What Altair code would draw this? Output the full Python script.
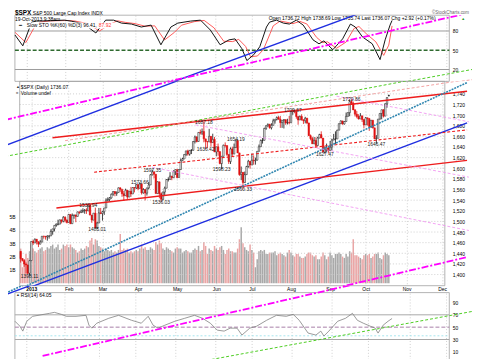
import altair as alt
import pandas as pd

FONT = "Liberation Sans"

# ------------------------------------------------------------------ data
HOLIDAYS = ["2012-12-25", "2013-01-01", "2013-01-21", "2013-02-18", "2013-03-29",
            "2013-05-27", "2013-07-04", "2013-09-02"]
FIRST_DAY = "2012-12-21"
LAST_DAY = "2013-10-18"
OPEN_FIRST = 1443.67
PREV_CLOSE_FIRST = 1443.69
OPEN_LAST = 1736.72

CLOSE_DEC = [1430.15, 1426.66, 1419.83, 1418.10, 1402.43, 1426.19]
HIGH_DEC = [1443.70, 1430.15, 1429.10, 1422.80, 1418.10, 1426.74]
LOW_DEC = [1422.58, 1424.66, 1414.50, 1401.80, 1401.58, 1398.11]
VOL_DEC = [2.6, 1.2, 1.7, 2.2, 1.9, 2.4]

CLOSE_JAN = [1462.42, 1459.37, 1466.47, 1461.89, 1457.15, 1461.02, 1472.12, 1472.05, 1470.68, 1472.34, 1472.63,
             1480.94, 1485.98, 1492.56, 1494.81, 1494.82, 1502.96, 1500.18, 1507.84, 1501.96, 1498.11]
HIGH_JAN = [1462.43, 1465.47, 1467.94, 1466.47, 1461.89, 1464.73, 1472.30, 1472.75, 1472.05, 1473.96, 1473.63,
            1485.16, 1485.98, 1492.56, 1496.13, 1503.26, 1503.26, 1503.23, 1509.94, 1509.66, 1504.19]
LOW_JAN = [1426.19, 1455.53, 1459.37, 1456.62, 1451.64, 1457.15, 1461.02, 1467.58, 1465.69, 1463.76, 1467.60,
           1472.63, 1475.01, 1481.16, 1489.90, 1492.56, 1494.82, 1496.33, 1498.33, 1498.11, 1496.14]
VOL_JAN = [2.9, 2.6, 2.4, 2.3, 2.5, 2.6, 2.7, 2.4, 2.5, 2.7, 2.6, 2.8, 2.9, 2.6, 2.7, 2.9, 2.5, 2.6, 2.9, 2.8, 2.9]

CLOSE_FEB = [1513.17, 1495.71, 1511.29, 1512.12, 1509.39, 1517.93, 1517.01, 1519.43, 1520.33, 1521.38, 1519.79,
             1530.94, 1511.95, 1502.42, 1515.60, 1487.85, 1496.94, 1515.99, 1514.68]
HIGH_FEB = [1514.07, 1513.17, 1514.96, 1512.53, 1512.90, 1518.31, 1518.31, 1522.29, 1524.69, 1523.14, 1524.69,
            1530.94, 1530.94, 1511.95, 1515.64, 1525.84, 1498.99, 1525.34, 1525.34]
LOW_FEB = [1498.11, 1495.02, 1495.71, 1504.99, 1498.49, 1509.39, 1513.61, 1515.61, 1515.93, 1514.41, 1514.14,
           1520.24, 1511.41, 1497.29, 1502.42, 1487.85, 1485.01, 1497.07, 1514.68]
VOL_FEB = [2.7, 2.9, 2.7, 2.6, 2.5, 2.3, 2.4, 2.6, 2.5, 2.6, 2.8, 2.7, 3.2, 3.4, 2.9, 3.3, 3.2, 2.8, 2.7]

CLOSE_MAR = [1518.20, 1525.20, 1539.79, 1541.46, 1544.26, 1551.18, 1556.22, 1552.48, 1554.52, 1563.23, 1560.70,
             1552.10, 1548.34, 1558.71, 1545.80, 1556.89, 1551.69, 1563.77, 1562.85, 1569.19]
HIGH_MAR = [1519.99, 1525.27, 1543.47, 1545.25, 1545.78, 1552.48, 1556.77, 1556.77, 1556.39, 1563.62, 1563.62,
            1557.74, 1557.25, 1561.56, 1558.71, 1557.39, 1564.91, 1563.95, 1564.07, 1570.28]
LOW_MAR = [1501.48, 1512.29, 1525.20, 1538.11, 1538.11, 1542.94, 1548.24, 1547.36, 1548.19, 1554.52, 1555.74,
           1546.22, 1538.57, 1548.34, 1542.17, 1545.80, 1546.22, 1551.69, 1554.60, 1561.08]
VOL_MAR = [2.6, 2.4, 2.6, 2.5, 2.4, 2.5, 2.3, 2.4, 2.3, 2.5, 3.7, 2.5, 2.6, 2.5, 2.6, 2.3, 2.4, 2.3, 2.4, 2.5]

CLOSE_APR = [1562.17, 1570.25, 1553.69, 1559.98, 1553.28, 1563.07, 1568.61, 1587.73, 1593.37, 1588.85, 1552.36,
             1574.57, 1552.01, 1541.61, 1555.25, 1562.50, 1578.78, 1578.79, 1585.16, 1582.24, 1593.61, 1597.57]
HIGH_APR = [1570.57, 1573.66, 1571.47, 1562.60, 1559.98, 1563.07, 1573.89, 1589.07, 1597.35, 1593.37, 1588.85,
            1575.35, 1574.57, 1554.38, 1555.89, 1565.55, 1579.58, 1583.00, 1592.64, 1585.78, 1596.43, 1597.57]
LOW_APR = [1558.47, 1562.17, 1550.47, 1552.28, 1539.50, 1548.63, 1560.20, 1568.61, 1586.48, 1581.28, 1552.36,
           1552.36, 1543.53, 1536.03, 1539.40, 1548.19, 1562.50, 1575.10, 1578.79, 1577.56, 1582.24, 1587.40]
VOL_APR = [2.4, 2.6, 2.9, 2.6, 2.7, 2.5, 2.5, 2.7, 2.6, 2.5, 3.1, 2.9, 3.2, 3.0, 2.6, 2.5, 2.7, 2.6, 2.5, 2.4,
           2.3, 2.6]

CLOSE_MAY = [1582.70, 1597.59, 1614.42, 1617.50, 1625.96, 1632.69, 1626.67, 1633.70, 1633.77, 1650.34, 1658.78,
             1650.47, 1667.47, 1666.29, 1669.16, 1655.35, 1650.51, 1649.60, 1660.06, 1648.36, 1654.41, 1630.74]
HIGH_MAY = [1597.57, 1598.60, 1618.46, 1619.77, 1626.03, 1632.78, 1635.01, 1633.70, 1636.00, 1651.10, 1661.49,
            1660.51, 1667.47, 1672.84, 1674.93, 1687.18, 1655.35, 1650.51, 1674.21, 1660.06, 1665.07, 1658.99]
LOW_MAY = [1581.28, 1582.70, 1597.59, 1614.21, 1617.50, 1622.72, 1623.71, 1623.71, 1626.74, 1633.56, 1646.68,
           1648.60, 1650.47, 1663.52, 1662.67, 1648.86, 1636.42, 1637.64, 1649.60, 1640.43, 1648.36, 1630.74]
VOL_MAY = [2.7, 2.6, 2.6, 2.3, 2.4, 2.5, 2.4, 2.3, 2.3, 2.5, 2.6, 2.5, 2.8, 2.4, 2.5, 3.1, 2.8, 2.2, 2.6, 2.5,
           2.4, 2.8]

CLOSE_JUN = [1640.42, 1631.38, 1608.90, 1622.56, 1643.38, 1642.81, 1626.13, 1612.52, 1636.36, 1626.73, 1639.04,
             1651.81, 1628.93, 1588.19, 1592.43, 1573.09, 1588.03, 1603.26, 1613.20, 1606.28]
HIGH_JUN = [1640.42, 1646.53, 1631.38, 1622.56, 1644.40, 1648.69, 1642.81, 1626.13, 1639.25, 1640.73, 1646.50,
            1654.19, 1654.19, 1628.93, 1603.26, 1592.43, 1593.79, 1604.57, 1615.94, 1613.20]
LOW_JUN = [1622.72, 1623.62, 1607.50, 1598.23, 1622.56, 1639.26, 1623.11, 1608.07, 1608.07, 1622.34, 1626.73,
           1639.04, 1628.93, 1585.76, 1577.70, 1560.33, 1573.09, 1588.03, 1601.06, 1599.18]
VOL_JUN = [2.6, 2.5, 2.7, 2.8, 2.5, 2.2, 2.5, 2.6, 2.4, 2.4, 2.3, 2.3, 2.6, 3.3, 4.2, 3.0, 2.7, 2.5, 2.4, 2.9]

CLOSE_JUL = [1614.96, 1614.08, 1615.41, 1631.89, 1640.46, 1652.32, 1652.62, 1675.02, 1680.19, 1682.50, 1676.26,
             1680.91, 1689.37, 1692.09, 1695.53, 1692.39, 1685.94, 1690.25, 1691.65, 1685.33, 1685.96, 1685.73]
HIGH_JUL = [1627.47, 1624.26, 1620.07, 1632.07, 1644.68, 1654.18, 1656.92, 1676.26, 1680.19, 1684.51, 1683.73,
            1684.75, 1693.12, 1692.09, 1697.61, 1698.78, 1698.38, 1690.25, 1691.85, 1690.92, 1693.19, 1698.43]
LOW_JUL = [1606.28, 1606.77, 1606.83, 1614.71, 1631.89, 1640.46, 1646.47, 1652.62, 1672.33, 1677.89, 1674.41,
           1673.02, 1680.91, 1684.08, 1690.19, 1691.43, 1676.03, 1676.03, 1674.92, 1681.86, 1682.42, 1682.67]
VOL_JUL = [2.5, 2.3, 1.2, 1.8, 2.4, 2.5, 2.4, 2.5, 2.2, 2.2, 2.3, 2.3, 2.3, 2.4, 2.1, 2.2, 2.3, 2.2, 2.1, 2.0,
           2.3, 2.5]

CLOSE_AUG = [1706.87, 1709.67, 1707.14, 1697.37, 1690.91, 1697.48, 1691.42, 1689.47, 1694.16, 1685.39, 1661.32,
             1655.83, 1646.06, 1652.35, 1642.80, 1656.96, 1663.50, 1656.78, 1630.48, 1634.96, 1638.17, 1632.97]
HIGH_AUG = [1707.85, 1709.67, 1709.24, 1707.14, 1697.37, 1699.42, 1701.64, 1691.49, 1696.81, 1695.00, 1685.39,
            1663.60, 1659.18, 1658.92, 1658.44, 1659.35, 1664.85, 1669.51, 1656.78, 1641.18, 1646.41, 1640.62]
LOW_AUG = [1685.73, 1700.68, 1703.55, 1693.24, 1681.96, 1690.91, 1689.61, 1683.44, 1684.51, 1683.06, 1661.22,
           1652.61, 1646.06, 1646.06, 1639.43, 1642.80, 1656.57, 1656.78, 1630.48, 1627.47, 1630.88, 1628.05]
VOL_AUG = [2.3, 2.1, 2.0, 2.2, 2.2, 2.0, 1.9, 1.9, 2.0, 2.2, 2.3, 2.3, 2.1, 2.0, 2.1, 1.8, 1.8, 2.0, 2.3, 2.1,
           1.8, 2.0]

CLOSE_SEP = [1639.77, 1653.08, 1655.08, 1655.17, 1671.71, 1683.99, 1689.13, 1683.42, 1687.99, 1697.60, 1704.76,
             1725.52, 1722.34, 1709.91, 1701.84, 1697.42, 1692.77, 1698.67, 1691.75, 1681.55]
HIGH_SEP = [1651.35, 1655.72, 1664.66, 1669.48, 1672.40, 1684.09, 1689.97, 1689.13, 1688.73, 1704.95, 1705.52,
            1729.44, 1729.86, 1725.52, 1711.44, 1707.63, 1701.71, 1703.85, 1698.67, 1691.75]
LOW_SEP = [1632.97, 1633.41, 1652.99, 1645.84, 1655.17, 1671.71, 1683.13, 1681.96, 1682.22, 1687.99, 1697.60,
           1697.93, 1719.56, 1709.91, 1697.46, 1694.10, 1691.88, 1692.77, 1687.11, 1674.99]
VOL_SEP = [2.3, 2.1, 1.9, 2.2, 2.2, 2.3, 2.2, 2.0, 1.9, 2.2, 2.0, 2.4, 2.3, 3.3, 2.1, 2.1, 2.0, 1.9, 1.8, 2.1]

CLOSE_OCT = [1695.00, 1693.87, 1678.66, 1690.50, 1676.12, 1655.45, 1656.40, 1692.56, 1703.20, 1710.14, 1698.06,
             1721.54, 1733.15, 1736.07]
HIGH_OCT = [1696.55, 1695.00, 1693.87, 1690.87, 1690.50, 1676.12, 1662.40, 1692.56, 1703.44, 1710.14, 1711.03,
            1721.76, 1733.45, 1738.69]
LOW_OCT = [1681.55, 1680.34, 1670.36, 1675.73, 1674.99, 1655.03, 1646.47, 1660.35, 1691.83, 1692.13, 1695.52,
           1704.86, 1714.12, 1735.74]
VOL_OCT = [2.2, 2.1, 2.2, 1.9, 2.0, 2.2, 2.2, 2.3, 1.9, 1.8, 2.1, 2.3, 2.2, 2.1]

# Slow STO %K(60) %D(3) (trading-day index, value)
STO_K_IDX = [-5.5, -1.2, 3.7, 6.4, 14, 21.6, 25.4, 32.5, 39.0, 44.4, 48.8, 53.1, 58.6, 64.0, 69.4, 74.8, 80.3,
             84.1, 91.1, 96.6, 102.0, 107.4, 112.3, 115.6, 119.4, 122.1, 125.9, 129.2, 132.9, 134.6, 138.4, 142.2,
             145.5, 149.3, 153.1, 158.5, 161.8, 164.5, 169.4, 174.8, 179.1, 181.8, 185.7, 191.1, 195.4, 198.2,
             200.9, 202.0]
STO_K_VAL = [73.8, 56.9, 93.8, 95.4, 96.0, 96.9, 95.4, 90.8, 76.9, 96.9, 96.9, 92.3, 90.8, 86.2, 89.2, 58.5, 86.2,
             92.3, 95.4, 96.9, 81.5, 58.5, 66.2, 67.7, 52.3, 33.9, 43.1, 55.4, 86.2, 93.8, 96.9, 92.3, 90.8, 96.9,
             89.2, 66.2, 60.0, 64.6, 50.8, 67.7, 90.8, 86.2, 70.8, 60.0, 35.4, 66.2, 89.2, 96.41]
STO_D_IDX = [-5.5, 0.5, 5.0, 8.5, 14, 23.5, 27.5, 34.5, 41.0, 46.5, 50.8, 55.1, 60.6, 66.0, 71.4, 76.8, 82.3,
             86.1, 93.1, 98.6, 104.0, 109.4, 114.3, 117.6, 121.4, 124.1, 127.9, 131.2, 134.9, 136.6, 140.4, 144.2,
             147.5, 151.3, 155.1, 160.5, 163.8, 166.5, 171.4, 176.8, 181.1, 183.8, 187.7, 193.1, 197.4, 200.2,
             202.0]
STO_D_VAL = [78.0, 62.0, 85.0, 94.0, 95.8, 96.3, 95.5, 91.5, 80.0, 90.0, 96.0, 93.5, 91.5, 87.5, 88.0, 66.0, 78.0,
             89.0, 94.5, 96.5, 85.0, 64.0, 63.5, 67.0, 56.0, 40.0, 41.0, 51.0, 76.0, 88.0, 95.5, 93.5, 91.5, 95.0,
             91.0, 70.0, 62.0, 63.0, 53.0, 63.0, 84.0, 87.0, 76.0, 63.0, 42.0, 58.0, 87.92]

# RSI(14)
RSI_IDX = [-5.5, -2.8, -1.2, 1.0, 4.2, 13.5, 16.2, 20.0, 22.7, 28.1, 33.6, 35.2, 36.8, 39.5, 46.1, 51.5, 58.6,
           64.0, 67.8, 70.5, 73.2, 77.0, 82.5, 87.9, 93.3, 97.7, 102.0, 105.8, 109.6, 112.9, 116.7, 119.4, 123.7,
           127.5, 133.0, 138.4, 143.8, 147.6, 150.9, 155.8, 160.1, 162.8, 164.5, 167.2, 172.1, 176.4, 180.2,
           182.9, 186.2, 190.0, 192.7, 194.3, 197.1, 199.8, 202.0]
RSI_VAL = [59.6, 51.6, 43.6, 59.6, 67.6, 72.4, 74.0, 70.8, 67.6, 67.6, 69.2, 53.2, 48.4, 56.4, 64.4, 69.2, 61.2,
           56.4, 67.6, 53.2, 48.4, 53.2, 59.6, 64.4, 69.2, 64.4, 56.4, 45.2, 43.6, 48.4, 48.4, 37.2, 48.4, 51.6,
           61.2, 69.2, 67.6, 70.8, 61.2, 40.4, 37.2, 43.6, 35.6, 43.6, 59.6, 64.4, 72.4, 61.2, 56.4, 51.6, 48.4,
           40.4, 53.2, 59.6, 64.05]

# annotated highs / lows (date, which extreme, vertical offset of the label in px)
LABEL_DATES = ["2012-12-31", "2013-02-19", "2013-02-26", "2013-04-02", "2013-04-11", "2013-04-18",
               "2013-05-22", "2013-05-23", "2013-06-06", "2013-06-18", "2013-06-24", "2013-08-02",
               "2013-08-28", "2013-09-19", "2013-10-09"]
LABEL_SIDE = ["low", "high", "low", "high", "high", "low", "high", "low", "low", "high", "low", "high", "low",
              "high", "low"]
LABEL_DY = [4.5, -10, 2, -10, -2, 0.5, -10.5, 1, -1, -11, -3, -7, 2, -5, 1]

# trend lines drawn on the chart (trading-day index, price)
TREND_NAME = ["blue_up", "blue_lo", "mag_up", "mag_lo", "grn_up", "grn_lo", "red_up", "red_lo", "red_mid",
              "red_lt", "teal", "pink_a", "pink_b", "pink_c"]
TREND_X0 = [-13.7, -13.7, -13.7, 9.7, -13.7, 100.0, 12.9, 15.1, 36.3, 20.0, -13.7, 68.9, 93.3, 172.6]
TREND_Y0 = [1642.8, 1358.4, 1691.1, 1246.9, 1622.3, 1238.5, 1657.5, 1525.3, 1592.6, 1652.0, 1360.3, 1601.9,
            1681.8, 1735.7]
TREND_X1 = [246, 246, 246, 246, 246, 246, 246, 246, 246, 247, 246, 247, 247, 247]
TREND_Y1 = [1969.5, 1685.5, 1893.7, 1432.8, 1785.9, 1330.5, 1745.0, 1614.9, 1672.3, 1767.3, 1761.3, 1482.9,
            1583.3, 1687.4]

MONTH_LABELS = ["2013", "Feb", "Mar", "Apr", "May", "Jun", "Jul", "Aug", "Sep", "Oct", "Nov", "Dec"]
MONTH_IDX = [1, 22, 41, 61, 83, 105, 125, 147, 169, 189, 212, 232]
PRICE_TICKS = list(range(1400, 1741, 20))
VOL_TICKS = [1, 2, 3, 4, 5]
STO_TICKS = [20, 50, 80]
RSI_TICKS = [10, 30, 50, 70, 90]

TITLE_SYMBOL = "$SPX"
TITLE_NAME = "S&P 500 Large Cap Index INDX"
TITLE_DATE = "19-Oct-2013 9:38am"
HEADER_QUOTE = "Open 1736.72  High 1738.69  Low 1735.74  Last 1736.07  Chg +2.92 (+0.17%)"
COPYRIGHT = "\u00a9StockCharts.com"
STO_LEGEND = "Slow STO %K(60) %D(3) 96.41,"
STO_LEGEND_D = "87.92"
PRICE_LEGEND = "$SPX (Daily) 1736.07"
VOL_LEGEND = "Volume undef"
RSI_LEGEND = "RSI(14) 64.05"

# ------------------------------------------------------------------ layout
PANEL_W = 440                     # framed panel width
LEFT_EXTRA, RIGHT_EXTRA = 7, 23   # drawing room outside the frame (trend lines run across the axis labels)
W = PANEL_W + LEFT_EXTRA + RIGHT_EXTRA
H_STO, H_PRICE, GAP, H_RSI = 67, 207, 7, 68
XDOM = [-5.54, 233.5]             # framed range of trading-day index
PXI = PANEL_W / (XDOM[1] - XDOM[0])
XFULL = [XDOM[0] - LEFT_EXTRA / PXI, XDOM[1] + RIGHT_EXTRA / PXI]
P_DOM = [1379.0, 1763.6]
V_DOM = [-0.185, 15.15]
STO_DOM = [1.54, 104.6]
RSI_DOM = [-2.8, 106.0]
RSI_PX = H_RSI / (RSI_DOM[1] - RSI_DOM[0])
RSI_DOM_EXT = [RSI_DOM[0], RSI_DOM[1] + GAP / RSI_PX]      # includes the label gap above the panel
PX_PER_PRICE = H_PRICE / (P_DOM[1] - P_DOM[0])
STO_BAND = [P_DOM[1], P_DOM[1] + H_STO / PX_PER_PRICE]
RSI_BAND = [P_DOM[0] - (H_RSI + GAP) / PX_PER_PRICE, P_DOM[0]]
OX = LEFT_EXTRA

GRID = "#cfcfcf"
FRAME = "#a0a0a0"
LBL = 5

# ------------------------------------------------------------------ frames
dates = pd.bdate_range(FIRST_DAY, LAST_DAY, freq="C", holidays=HOLIDAYS)
close = CLOSE_DEC + CLOSE_JAN + CLOSE_FEB + CLOSE_MAR + CLOSE_APR + CLOSE_MAY + CLOSE_JUN + CLOSE_JUL + \
    CLOSE_AUG + CLOSE_SEP + CLOSE_OCT
high = HIGH_DEC + HIGH_JAN + HIGH_FEB + HIGH_MAR + HIGH_APR + HIGH_MAY + HIGH_JUN + HIGH_JUL + HIGH_AUG + \
    HIGH_SEP + HIGH_OCT
low = LOW_DEC + LOW_JAN + LOW_FEB + LOW_MAR + LOW_APR + LOW_MAY + LOW_JUN + LOW_JUL + LOW_AUG + LOW_SEP + LOW_OCT
vol = VOL_DEC + VOL_JAN + VOL_FEB + VOL_MAR + VOL_APR + VOL_MAY + VOL_JUN + VOL_JUL + VOL_AUG + VOL_SEP + VOL_OCT

df = pd.DataFrame({"date": dates, "close": close, "high": high, "low": low, "vol": vol})
df["idx"] = list(range(-5, len(df) - 5))
prev = [PREV_CLOSE_FIRST] + close[:-1]
opens = [OPEN_FIRST] + close[:-1]
opens[-1] = OPEN_LAST
df["open"] = opens
df["down"] = [c < p for c, p in zip(close, prev)]
df["col"] = ["#e01010" if d else "#111111" for d in df["down"]]
df["fillcol"] = [c if cl < o else "#ffffff" for c, cl, o in zip(df["col"], df["close"], df["open"])]
df["vcol"] = ["#e9a5a5" if d else "#a8a8a8" for d in df["down"]]

lab_rows = []
for d, side, dy in zip(LABEL_DATES, LABEL_SIDE, LABEL_DY):
    r = df[df["date"] == pd.Timestamp(d)].iloc[0]
    v = r["high"] if side == "high" else r["low"]
    lab_rows.append({"idx": r["idx"], "val": v, "txt": f"{v:.2f}", "dy": dy})
lab_df = pd.DataFrame(lab_rows)

trend_rows = []
for n, x0, y0, x1, y1 in zip(TREND_NAME, TREND_X0, TREND_Y0, TREND_X1, TREND_Y1):
    trend_rows.append({"name": n, "idx": x0, "price": y0})
    trend_rows.append({"name": n, "idx": x1, "price": y1})
trend_df = pd.DataFrame(trend_rows)

TREND_STYLE = {
    "blue_up": ("#1f2ee0", None, 1.4), "blue_lo": ("#1f2ee0", None, 1.4),
    "mag_up": ("#ff00ff", [7, 2, 2, 2], 1.8), "mag_lo": ("#ff00ff", [7, 2, 2, 2], 1.8),
    "grn_up": ("#4ccc22", [3, 2], 1.0), "grn_lo": ("#4ccc22", [3, 2], 1.0),
    "red_up": ("#ee1c1c", None, 1.4), "red_lo": ("#ee1c1c", None, 1.4),
    "red_mid": ("#ee1c1c", [3, 2], 1.1), "red_lt": ("#f08a8a", [3, 2], 0.8),
    "teal": ("#2f86b0", [2, 1], 1.6),
    "pink_a": ("#f08cf0", [3, 2], 0.8), "pink_b": ("#f08cf0", [3, 2], 0.8), "pink_c": ("#f08cf0", [3, 2], 0.8),
}

LABEL_EXPR = "[" + ",".join(f"'{m}'" for m in MONTH_LABELS) + "][indexof([" + \
    ",".join(str(v) for v in MONTH_IDX) + "], datum.value)]"
XSCALE = alt.Scale(domain=XFULL, nice=False, zero=False)


def xaxis(labels=False, grid=True):
    return alt.Axis(values=MONTH_IDX, labelExpr=LABEL_EXPR, labels=labels, grid=grid,
                    gridDash=[1, 2], gridColor=GRID, ticks=False, domain=False, title=None,
                    labelFontSize=LBL, labelPadding=1, labelFont=FONT, labelColor="#000",
                    labelFlush=False, labelOverlap=False,
                    labelFontWeight={"condition": {"test": "datum.value == 1", "value": "bold"},
                                     "value": "normal"})


def xenc(labels=False, grid=True):
    return alt.X("idx:Q", scale=XSCALE, axis=xaxis(labels, grid))


def yaxis_right(ticks):
    return alt.Axis(orient="right", values=ticks, grid=False, ticks=False, domain=False, title=None,
                    labelFontSize=LBL, labelPadding=3 - RIGHT_EXTRA, labelFont=FONT, labelColor="#000")


def text(s, x, y, size=LBL, color="#000", weight="normal", align="left"):
    return alt.Chart(pd.DataFrame({"t": [s]})).mark_text(
        align=align, baseline="top", fontSize=size, font=FONT, color=color, fontWeight=weight
    ).encode(x=alt.value(x + OX), y=alt.value(y), text="t:N")


def frame(ydom, yscale, yaxis, labels=False, grid=True):
    fd = pd.DataFrame({"x0": [XDOM[0]], "x1": [XDOM[1]], "y0": [ydom[0]], "y1": [ydom[1]]})
    return alt.Chart(fd).mark_rect(fill=None, stroke=FRAME, strokeWidth=0.8).encode(
        x=alt.X("x0:Q", scale=XSCALE, axis=xaxis(labels, grid)), x2="x1:Q",
        y=alt.Y("y0:Q", scale=yscale, axis=yaxis), y2="y1:Q")


def hrules(values, yscale, yaxis, color, width, dash=None, labels=False, grid=True):
    hd = pd.DataFrame({"v": values, "x0": [XDOM[0]] * len(values), "x1": [XDOM[1]] * len(values)})
    kw = dict(color=color, strokeWidth=width)
    if dash:
        kw["strokeDash"] = dash
    return alt.Chart(hd).mark_rule(**kw).encode(
        x=alt.X("x0:Q", scale=XSCALE, axis=xaxis(labels, grid)), x2="x1:Q",
        y=alt.Y("v:Q", scale=yscale, axis=yaxis))


def trend_layers(domain, axis, lx):
    out = []
    for n in TREND_NAME:
        color, dash, width = TREND_STYLE[n]
        kw = dict(color=color, strokeWidth=width, clip=True)
        if dash:
            kw["strokeDash"] = dash
        out.append(alt.Chart(trend_df[trend_df["name"] == n]).mark_line(**kw).encode(
            x=xenc(lx), y=alt.Y("price:Q", scale=alt.Scale(domain=domain, nice=False, zero=False), axis=axis)))
    return out


# ------------------------------------------------------------------ STO panel
sto_scale = alt.Scale(domain=STO_DOM, nice=False, zero=False)
sto_ax = yaxis_right(STO_TICKS)
sto_k = pd.DataFrame({"idx": STO_K_IDX, "v": STO_K_VAL})
sto_d = pd.DataFrame({"idx": STO_D_IDX, "v": STO_D_VAL})
k_line = alt.Chart(sto_k).mark_line(color="#111", strokeWidth=1).encode(
    x=xenc(), y=alt.Y("v:Q", scale=sto_scale, axis=sto_ax))
d_line = alt.Chart(sto_d).mark_line(color="#ff5a5a", strokeWidth=1).encode(
    x=xenc(), y=alt.Y("v:Q", scale=sto_scale, axis=sto_ax))
leg_bg = alt.Chart(pd.DataFrame({"a": [0]})).mark_rect(color="#ffffff").encode(
    x=alt.value(3 + OX), x2=alt.value(101 + OX), y=alt.value(7.5), y2=alt.value(13.5))
sto_core = alt.layer(
    frame(STO_DOM, sto_scale, sto_ax),
    hrules([80, 20], sto_scale, sto_ax, "#9a9a9a", 1),
    hrules([50], sto_scale, sto_ax, "#2f6a2f", 1.6, [4, 2]),
    d_line, k_line, leg_bg,
    text(TITLE_SYMBOL, 0, -5, size=6.5, weight="bold"),
    text(TITLE_NAME, 18, -4.5, size=LBL),
    text(TITLE_DATE, 0, 1.8, size=LBL),
    text(COPYRIGHT, 460, -5, size=4.5, color="#666", align="right"),
    text(HEADER_QUOTE, 257, 0.8, size=LBL),
    text("\u25b2", 452, 1.5, size=4, color="#2a9a2a"),
    text("\u2501", 4, 8, size=LBL),
    text(STO_LEGEND, 12, 8, size=LBL),
    text(STO_LEGEND_D, 85, 8, size=LBL, color="#ff3030"),
)
sto = alt.layer(sto_core, alt.layer(*trend_layers(STO_BAND, None, False))).resolve_scale(
    y="independent").properties(width=W, height=H_STO)

# ------------------------------------------------------------------ price panel
p_scale = alt.Scale(domain=P_DOM, nice=False, zero=False)
p_ax = yaxis_right(PRICE_TICKS)
vol_layer = alt.Chart(df).mark_bar(size=1.5).encode(
    x=xenc(True),
    y=alt.Y("vol:Q", scale=alt.Scale(domain=V_DOM, nice=False, zero=False),
            axis=alt.Axis(orient="left", values=VOL_TICKS, labelExpr="datum.value + 'B'", labelAlign="left",
                          labelPadding=-1, ticks=False, domain=False, grid=False, title=None, labelFontSize=LBL,
                          labelFont=FONT, labelColor="#000")),
    color=alt.Color("vcol:N", scale=None))
wick = alt.Chart(df).mark_rule(strokeWidth=0.8).encode(
    x=xenc(True), y=alt.Y("low:Q", scale=p_scale, axis=p_ax), y2="high:Q", color=alt.Color("col:N", scale=None))
body = alt.Chart(df).mark_bar(size=1.5, strokeWidth=0.5).encode(
    x=xenc(True), y=alt.Y("open:Q", scale=p_scale, axis=p_ax), y2="close:Q",
    fill=alt.Fill("fillcol:N", scale=None), stroke=alt.Stroke("col:N", scale=None))
labels = alt.Chart(lab_df).mark_text(baseline="middle", fontSize=LBL, font=FONT, color="#222").encode(
    x=xenc(True), y=alt.Y("val:Q", scale=p_scale, axis=p_ax), yOffset=alt.YOffset("dy:Q", scale=None),
    text="txt:N")
price_core = alt.layer(
    hrules(PRICE_TICKS, p_scale, p_ax, GRID, 1, [1, 2], True),
    frame(P_DOM, p_scale, p_ax, True), wick, body, *trend_layers(P_DOM, p_ax, True), labels,
    text("\u25b2", 1, 3.5, size=4, color="#333"),
    text(PRICE_LEGEND, 6, 3.5, size=LBL),
    text("\u25a0", 1, 9.5, size=4, color="#999"),
    text(VOL_LEGEND, 6, 9.5, size=LBL),
)
price = alt.layer(vol_layer, price_core).resolve_scale(y="independent").properties(width=W, height=H_PRICE)

# ------------------------------------------------------------------ RSI panel (top GAP px hold the month labels)
r_scale = alt.Scale(domain=RSI_DOM_EXT, nice=False, zero=False)
r_ax = yaxis_right(RSI_TICKS)
rsi_df = pd.DataFrame({"idx": RSI_IDX, "v": RSI_VAL})
grid_df = pd.DataFrame({"idx": MONTH_IDX, "y0": [RSI_DOM[0]] * len(MONTH_IDX), "y1": [RSI_DOM[1]] * len(MONTH_IDX)})
r_grid = alt.Chart(grid_df).mark_rule(color=GRID, strokeWidth=1, strokeDash=[1, 2]).encode(
    x=xenc(False, False), y=alt.Y("y0:Q", scale=r_scale, axis=r_ax), y2="y1:Q")
r_line = alt.Chart(rsi_df).mark_line(color="#808080", strokeWidth=0.8).encode(
    x=xenc(False, False), y=alt.Y("v:Q", scale=r_scale, axis=r_ax))
rsi_core = alt.layer(frame(RSI_DOM, r_scale, r_ax, False, False), r_grid,
                     hrules([70, 30], r_scale, r_ax, "#a8a8a8", 1, None, False, False),
                     hrules([50], r_scale, r_ax, "#a77ea7", 1, [4, 2], False, False),
                     hrules([36], r_scale, r_ax, "#a6e6ee", 1, [2, 2], False, False),
                     r_line,
                     text("\u25b2", 1, GAP + 0.5, size=4, color="#333"),
                     text(RSI_LEGEND, 6, GAP + 0.5, size=LBL))
rsi = alt.layer(rsi_core, alt.layer(*trend_layers(RSI_BAND, None, False))).resolve_scale(
    y="independent").properties(width=W, height=H_RSI + GAP)

chart = alt.vconcat(sto, price, rsi, spacing=0, bounds="flush").properties(
    padding=0, background="white"
).configure_view(stroke=None)

chart.save("out.html", embed_options={"renderer": "svg", "actions": False})
